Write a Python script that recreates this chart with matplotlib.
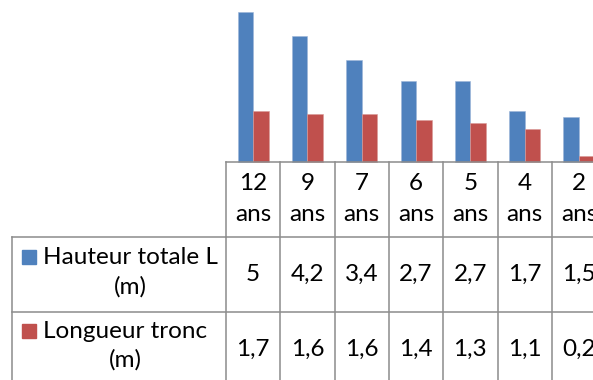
import matplotlib
matplotlib.use('Agg')
import matplotlib.pyplot as plt
import numpy as np

ages = ['12\nans', '9\nans', '7\nans', '6\nans', '5\nans', '4\nans', '2\nans']
hauteur = [5, 4.2, 3.4, 2.7, 2.7, 1.7, 1.5]
tronc = [1.7, 1.6, 1.6, 1.4, 1.3, 1.1, 0.2]
series = ['Hauteur totale L\n(m)', 'Longueur tronc\n(m)']

blue = '#4F81BD'
red = '#C0504D'
grid = '#8C8C8C'

plt.rcParams['font.family'] = ['Lato', 'DejaVu Sans']

fig = plt.figure(figsize=(5.93, 3.80), dpi=100)
# plot area: baseline at 162 px, 7 columns of ~54.3 px starting at x=226
ax = fig.add_axes([226 / 593, (380 - 162) / 380, 7 * 54.3 / 593, 150 / 380])

x = np.arange(len(hauteur))
w = 1 / 3.5  # gap width 150%
ax.bar(x - w / 2, hauteur, w, color=blue, edgecolor='#9db6d8', linewidth=0.4, clip_on=False)
ax.bar(x + w / 2, tronc, w, color=red, edgecolor='#d99a98', linewidth=0.4, clip_on=False)

ax.set_xlim(-0.5, len(hauteur) - 0.5)
ax.set_ylim(0, 5)
for s in ['top', 'left', 'right']:
    ax.spines[s].set_visible(False)
ax.spines['bottom'].set_color(grid)
ax.spines['bottom'].set_linewidth(1.1)
ax.set_xticks([])
ax.set_yticks([])

# data table under the chart
tr = ax.get_xaxis_transform()
left_lbl = -4.44
right = len(hauteur) - 0.5
kw = dict(color=grid, lw=1.1, transform=tr, clip_on=False)
# vertical lines between categories
for i in range(len(hauteur) + 1):
    ax.plot([i - 0.5, i - 0.5], [0, -1.6], **kw)
# horizontal lines
ax.plot([-0.5, right], [-0.5, -0.5], **kw)
ax.plot([left_lbl, -0.5], [-0.5, -0.5], **kw)
ax.plot([left_lbl, right], [-1.0, -1.0], **kw)
ax.plot([left_lbl, left_lbl], [-0.5, -1.6], **kw)

fs = 17.5
for i, a in enumerate(ages):
    ax.text(i, -0.245, a, ha='center', va='center', fontsize=fs,
            linespacing=1.58, transform=tr, clip_on=False)
    ax.text(i, -0.75, str(hauteur[i]).replace('.', ','), ha='center', va='center',
            fontsize=fs, transform=tr, clip_on=False)
    ax.text(i, -1.25, str(tronc[i]).replace('.', ','), ha='center', va='center',
            fontsize=fs, transform=tr, clip_on=False)

for k, (lbl, col) in enumerate(zip(series, [blue, red])):
    yc = -0.735 - 0.49 * k
    ax.text(-3.87, yc, lbl, ha='left', va='center', multialignment='center',
            fontsize=fs, linespacing=1.42, transform=tr, clip_on=False)
    ax.plot([-4.12], [yc + 0.1], marker='s', markersize=10.5, color=col,
            transform=tr, clip_on=False)

fig.savefig('out.png', dpi=100)
